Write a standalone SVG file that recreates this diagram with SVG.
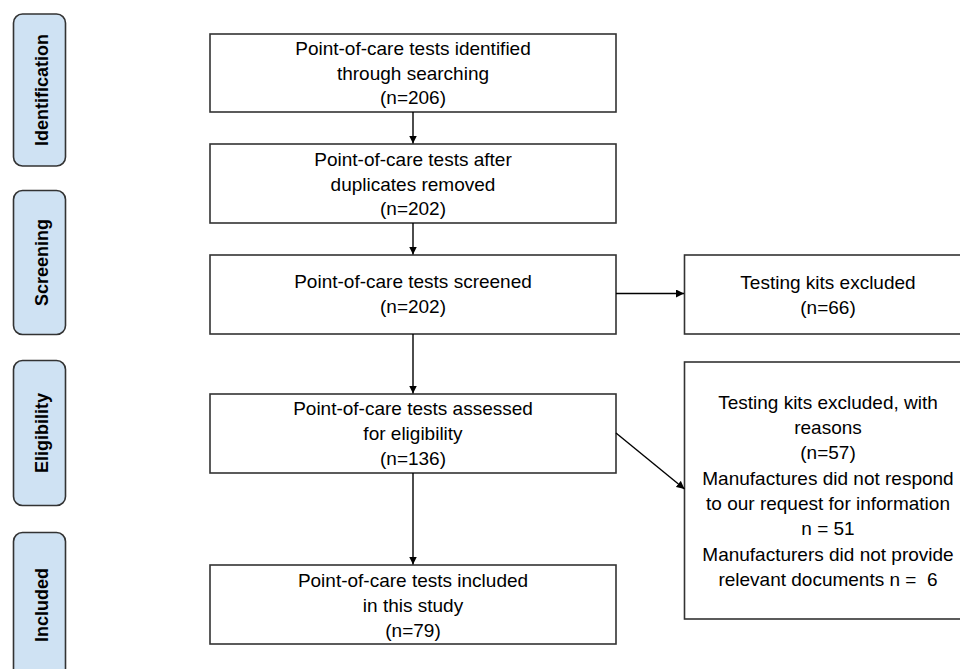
<svg xmlns="http://www.w3.org/2000/svg" width="960" height="669" viewBox="0 0 960 669">
<defs>
<marker id="ah" viewBox="0 0 10 10" refX="10" refY="5" markerWidth="8" markerHeight="8" markerUnits="userSpaceOnUse" orient="auto">
<path d="M0,0 L10,5 L0,10 z" fill="#000"/>
</marker>
<style>
.box{fill:#fff;stroke:#333;stroke-width:1.6}
.phase{fill:#cfe2f3;stroke:#333;stroke-width:1.6}
.t{font-family:"Liberation Sans",Arial,sans-serif;font-size:19px;fill:#000;text-anchor:middle}
.p{font-family:"Liberation Sans",Arial,sans-serif;font-size:18px;font-weight:bold;fill:#000;text-anchor:middle}
.c{stroke:#000;stroke-width:1.4;fill:none;marker-end:url(#ah)}
</style>
</defs>
<rect width="960" height="669" fill="#fff"/>

<g id="phase-identification">
<rect class="phase" x="13.5" y="14" width="52" height="152" rx="9"/>
<text class="p" transform="translate(47.5,90) rotate(-90)">Identification</text>
</g>
<g id="phase-screening">
<rect class="phase" x="13.5" y="190.5" width="52" height="144" rx="9"/>
<text class="p" transform="translate(47.5,262.5) rotate(-90)">Screening</text>
</g>
<g id="phase-eligibility">
<rect class="phase" x="13.5" y="360.5" width="52" height="145" rx="9"/>
<text class="p" transform="translate(47.5,433) rotate(-90)">Eligibility</text>
</g>
<g id="phase-included">
<rect class="phase" x="13.5" y="532.5" width="52" height="145" rx="9"/>
<text class="p" transform="translate(47.5,605) rotate(-90)">Included</text>
</g>

<g id="identified">
<rect class="box" x="210" y="34" width="406" height="78"/>
<text class="t" x="413" y="55">Point-of-care tests identified</text>
<text class="t" x="413" y="80">through searching</text>
<text class="t" x="413" y="104">(n=206)</text>
</g>
<g id="duplicates">
<rect class="box" x="210" y="144" width="406" height="79"/>
<text class="t" x="413" y="166">Point-of-care tests after</text>
<text class="t" x="413" y="191">duplicates removed</text>
<text class="t" x="413" y="215">(n=202)</text>
</g>
<g id="screened">
<rect class="box" x="210" y="255" width="406" height="79"/>
<text class="t" x="413" y="288">Point-of-care tests screened</text>
<text class="t" x="413" y="313">(n=202)</text>
</g>
<g id="assessed">
<rect class="box" x="210" y="394" width="406" height="79"/>
<text class="t" x="413" y="415">Point-of-care tests assessed</text>
<text class="t" x="413" y="440">for eligibility</text>
<text class="t" x="413" y="465">(n=136)</text>
</g>
<g id="included">
<rect class="box" x="210" y="565" width="406" height="79"/>
<text class="t" x="413" y="587">Point-of-care tests included</text>
<text class="t" x="413" y="612">in this study</text>
<text class="t" x="413" y="637">(n=79)</text>
</g>
<g id="excluded1">
<rect class="box" x="684.5" y="255" width="290" height="79"/>
<text class="t" x="828" y="289">Testing kits excluded</text>
<text class="t" x="828" y="314">(n=66)</text>
</g>
<g id="excluded2">
<rect class="box" x="684.5" y="362" width="290" height="257"/>
<text class="t" x="828" y="409">Testing kits excluded, with</text>
<text class="t" x="828" y="434">reasons</text>
<text class="t" x="828" y="459">(n=57)</text>
<text class="t" x="828" y="485">Manufactures did not respond</text>
<text class="t" x="828" y="510">to our request for information</text>
<text class="t" x="828" y="535">n = 51</text>
<text class="t" x="828" y="561">Manufacturers did not provide</text>
<text class="t" x="828" y="586" xml:space="preserve">relevant documents n =  6</text>
</g>

<g id="connectors">
<line class="c" x1="413" y1="112" x2="413" y2="143.5"/>
<line class="c" x1="413" y1="223" x2="413" y2="254.5"/>
<line class="c" x1="413" y1="334" x2="413" y2="393.5"/>
<line class="c" x1="413" y1="473" x2="413" y2="564.5"/>
<line class="c" x1="616" y1="293.5" x2="684" y2="293.5"/>
<line class="c" x1="616" y1="433" x2="684.5" y2="489"/>
</g>
</svg>
